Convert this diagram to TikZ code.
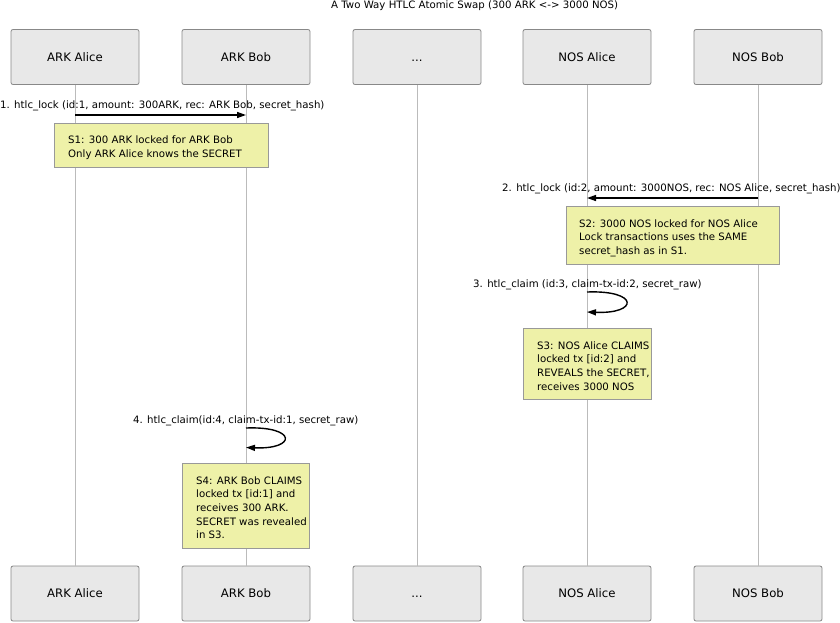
\documentclass[tikz,border=0pt]{standalone}
\usepackage{fontspec}
\setmainfont{DejaVu Sans}
\usetikzlibrary{arrows.meta}
\definecolor{partfill}{HTML}{E8E8E8}
\definecolor{partdraw}{HTML}{888888}
\definecolor{notefill}{HTML}{EEF1A8}
\definecolor{notedraw}{HTML}{999999}
\definecolor{lifecol}{HTML}{BBBBBB}
\begin{document}
\begin{tikzpicture}[x=1pt,y=-1pt,
  part/.style={draw=partdraw, fill=partfill, rounded corners=2pt, minimum width=128pt, minimum height=55pt, font=\fontsize{11.7}{14}\selectfont, inner sep=0pt, text height=8.5pt, text depth=0pt, line width=0.8pt},
  notebox/.style={draw=notedraw, fill=notefill, anchor=north west, inner sep=0pt, line width=0.8pt},
  notetext/.style={anchor=base west, align=left, inner sep=0pt, font=\fontsize{10.2}{13.6}\selectfont},
  msg/.style={anchor=base west, inner sep=0pt, font=\fontsize{10.2}{12}\selectfont},
  arr/.style={line width=1.4pt, -{Triangle[length=9pt,width=6pt]}},
  life/.style={draw=lifecol, line width=0.9pt}]
\useasboundingbox (0,0) rectangle (840,622);
\fill[white] (0,0) rectangle (840,622);

% title
\node[msg] (title) at (331,8) {A Two Way HTLC Atomic Swap (300 ARK <-> 3000 NOS)};

% participants
\node[part] (aT) at (75,57) {ARK Alice};
\node[part] (bT) at (246,57) {ARK Bob};
\node[part] (dT) at (417,57) {...};
\node[part] (naT) at (587,57) {NOS Alice};
\node[part] (nbT) at (758,57) {NOS Bob};
\node[part] (aB) at (75,593.5) {ARK Alice};
\node[part] (bB) at (246,593.5) {ARK Bob};
\node[part] (dB) at (417,593.5) {...};
\node[part] (naB) at (587,593.5) {NOS Alice};
\node[part] (nbB) at (758,593.5) {NOS Bob};

% lifelines
\draw[life] (aT) -- (aB);
\draw[life] (bT) -- (bB);
\draw[life] (dT) -- (dB);
\draw[life] (naT) -- (naB);
\draw[life] (nbT) -- (nbB);

% message 1
\coordinate (m1a) at (aT.south |- 0,115);
\coordinate (m1b) at (bT.south |- 0,115);
\node[msg] (l1) at (0,108.5) {1. htlc\_lock (id:1, amount: 300ARK, rec: ARK Bob, secret\_hash)};
\draw[arr] (m1a) -- (m1b);

\node[notebox, minimum width=214pt, minimum height=44pt] (n1) at (54,123) {};
\node[notetext] (t1) at (68,157.5) {S1: 300 ARK locked for ARK Bob\\Only ARK Alice knows the SECRET};

% message 2
\coordinate (m2a) at (nbT.south |- 0,198);
\coordinate (m2b) at (naT.south |- 0,198);
\node[msg] (l2) at (502,191.3) {2. htlc\_lock (id:2, amount: 3000NOS, rec: NOS Alice, secret\_hash)};
\draw[arr] (m2a) -- (m2b);

\node[notebox, minimum width=213pt, minimum height=58pt] (n2) at (566,206) {};
\node[notetext] (t2) at (579,254.3) {S2: 3000 NOS locked for NOS Alice\\Lock transactions uses the SAME\\secret\_hash as in S1.};

% message 3
\coordinate (m3a) at (naT.south |- 0,292);
\coordinate (m3b) at (naT.south |- 0,312);
\node[msg] (l3) at (473,287.7) {3. htlc\_claim (id:3, claim-tx-id:2, secret\_raw)};
\draw[arr] (m3a) .. controls +(52,-2) and +(52,2) .. (m3b);

\node[notebox, minimum width=128pt, minimum height=71pt] (n3) at (523,328) {};
\node[notetext] (t3) at (537,390) {S3: NOS Alice CLAIMS\\locked tx [id:2] and\\REVEALS the SECRET,\\receives 3000 NOS};

% message 4
\coordinate (m4a) at (bT.south |- 0,428);
\coordinate (m4b) at (bT.south |- 0,447.5);
\node[msg] (l4) at (133,423.3) {4. htlc\_claim(id:4, claim-tx-id:1, secret\_raw)};
\draw[arr] (m4a) .. controls +(51,-2) and +(51,2) .. (m4b);

\node[notebox, minimum width=127pt, minimum height=85pt] (n4) at (182,463) {};
\node[notetext] (t4) at (196,538.7) {S4: ARK Bob CLAIMS\\locked tx [id:1] and\\receives 300 ARK.\\SECRET was revealed\\in S3.};
\end{tikzpicture}
\end{document}
